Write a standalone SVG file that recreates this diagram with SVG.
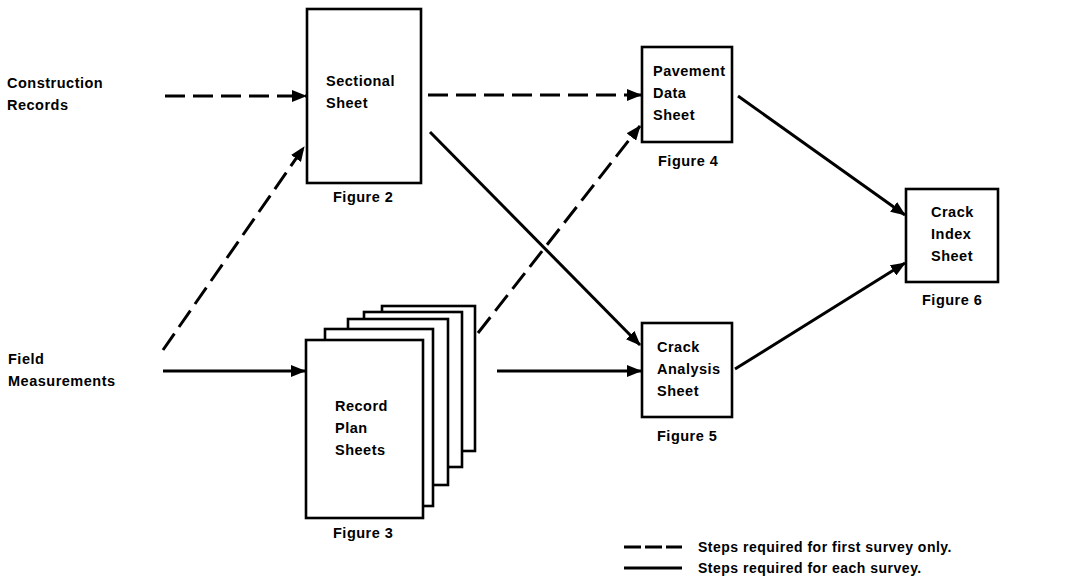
<svg xmlns="http://www.w3.org/2000/svg" width="1066" height="580" viewBox="0 0 1066 580">
<style>
text{font-family:"Liberation Sans",Arial,sans-serif;font-weight:bold;font-size:14.5px;letter-spacing:0.5px;fill:#000}
.box{fill:#fff;stroke:#000;stroke-width:2.6}
.c{fill:none;stroke:#000;stroke-width:3}
.d{stroke-dasharray:20 8}
.leg{font-size:14px;letter-spacing:0.5px}
</style>
<defs>
<marker id="ah" markerUnits="userSpaceOnUse" markerWidth="16" markerHeight="12" refX="14" refY="6" orient="auto">
<path d="M0,0 L15,6 L0,12 Z" fill="#000"/>
</marker>
</defs>
<g id="construction-records">
<text x="7" y="88">Construction</text>
<text x="7" y="110">Records</text>
</g>
<g id="field-measurements">
<text x="8" y="364">Field</text>
<text x="8" y="386">Measurements</text>
</g>
<g id="sectional-sheet">
<rect class="box" x="307" y="9" width="114" height="174"/>
<text x="326" y="86">Sectional</text>
<text x="326" y="108">Sheet</text>
<text x="333" y="202">Figure 2</text>
</g>
<g id="record-plan-sheets">
<rect class="box" x="382" y="306" width="93" height="145"/>
<rect class="box" x="364" y="312" width="98" height="155"/>
<rect class="box" x="348" y="319" width="100" height="166"/>
<rect class="box" x="325" y="329" width="108" height="177"/>
<rect class="box" x="306" y="340" width="117" height="178"/>
<text x="335" y="411">Record</text>
<text x="335" y="433">Plan</text>
<text x="335" y="455">Sheets</text>
<text x="333" y="538">Figure 3</text>
</g>
<g id="pavement-data-sheet">
<rect class="box" x="642" y="47" width="90" height="95"/>
<text x="653" y="76">Pavement</text>
<text x="653" y="98">Data</text>
<text x="653" y="120">Sheet</text>
<text x="658" y="166">Figure 4</text>
</g>
<g id="crack-analysis-sheet">
<rect class="box" x="642" y="323" width="90" height="94"/>
<text x="657" y="352">Crack</text>
<text x="657" y="374">Analysis</text>
<text x="657" y="396">Sheet</text>
<text x="657" y="441">Figure 5</text>
</g>
<g id="crack-index-sheet">
<rect class="box" x="906" y="189" width="92" height="93"/>
<text x="931" y="217">Crack</text>
<text x="931" y="239">Index</text>
<text x="931" y="261">Sheet</text>
<text x="922" y="305">Figure 6</text>
</g>
<g id="connectors">
<line class="c d" x1="165" y1="96" x2="306" y2="96" marker-end="url(#ah)"/>
<line class="c d" x1="163" y1="350" x2="304" y2="147" marker-end="url(#ah)"/>
<line class="c" x1="163" y1="371" x2="305" y2="371" marker-end="url(#ah)"/>
<line class="c d" x1="428" y1="95" x2="641" y2="95" marker-end="url(#ah)"/>
<line class="c d" x1="478" y1="333" x2="640" y2="126" marker-end="url(#ah)"/>
<line class="c" x1="430" y1="132" x2="640" y2="345" marker-end="url(#ah)"/>
<line class="c" x1="497" y1="371" x2="641" y2="371" marker-end="url(#ah)"/>
<line class="c" x1="738" y1="96" x2="905" y2="215" marker-end="url(#ah)"/>
<line class="c" x1="735" y1="369" x2="905" y2="263" marker-end="url(#ah)"/>
</g>
<g id="legend">
<line class="c d" x1="624" y1="547" x2="682" y2="547" style="stroke-dasharray:17 4"/>
<line class="c" x1="624" y1="568" x2="682" y2="568"/>
<text class="leg" x="698" y="552">Steps required for first survey only.</text>
<text class="leg" x="698" y="573">Steps required for each survey.</text>
</g>
</svg>
